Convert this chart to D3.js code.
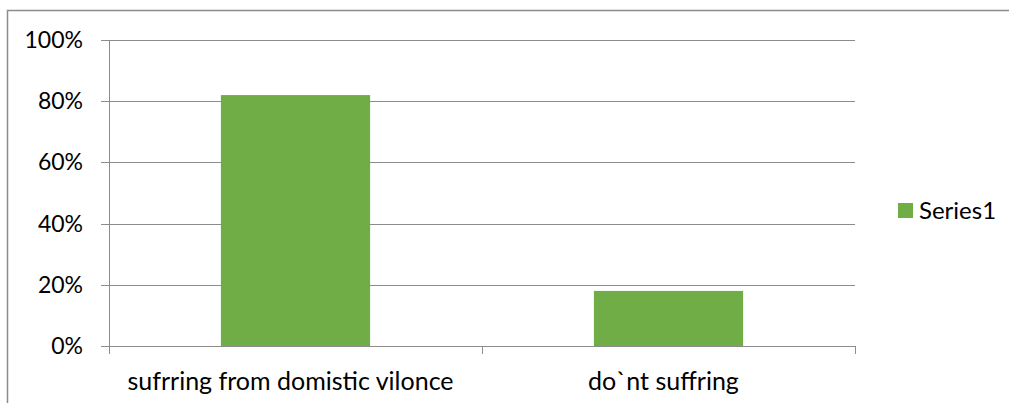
<!DOCTYPE html>
<html>
<head>
<meta charset="utf-8">
<script src="https://cdn.jsdelivr.net/npm/d3@7"></script>
<style>
  html, body { margin: 0; padding: 0; background: #fff; }
  svg { display: block; font-family: Lato, "Open Sans", sans-serif; }
</style>
</head>
<body>
<svg id="chart" width="1009" height="403"></svg>
<script>
const categories = ["sufrring from domistic vilonce", "do`nt suffring"];
const values = [0.82, 0.18];
const seriesName = "Series1";
const yTicks = [0, 0.2, 0.4, 0.6, 0.8, 1.0];

const svg = d3.select("#chart");
const plot = { left: 109, right: 855, top: 40, bottom: 346 };
const barColor = "#70AD47";
const gridColor = "#8c8c8c";

// chart frame
svg.append("path")
  .attr("d", "M7.5,403 V10.5 H1009")
  .attr("fill", "none")
  .attr("stroke", "#8c8c8c")
  .attr("stroke-width", 1.5);

const x = d3.scaleBand().domain(categories).range([plot.left, plot.right])
  .paddingInner(0.6).paddingOuter(0.3);
const y = d3.scaleLinear().domain([0, 1]).range([plot.bottom, plot.top]);

// horizontal gridlines
svg.append("g").selectAll("line").data(yTicks).join("line")
  .attr("x1", plot.left - 8).attr("x2", plot.right)
  .attr("y1", d => Math.round(y(d)) + 0.5).attr("y2", d => Math.round(y(d)) + 0.5)
  .attr("stroke", gridColor).attr("stroke-width", 1);

// bars
svg.append("g").selectAll("rect").data(values).join("rect")
  .attr("x", (d, i) => x(categories[i]))
  .attr("width", x.bandwidth())
  .attr("y", d => y(d))
  .attr("height", d => y(0) - y(d))
  .attr("fill", barColor);

// vertical axis line
svg.append("line")
  .attr("x1", plot.left + 0.5).attr("x2", plot.left + 0.5)
  .attr("y1", plot.top).attr("y2", plot.bottom + 8)
  .attr("stroke", gridColor);

// category tick marks at band boundaries
const step = (plot.right - plot.left) / categories.length;
svg.append("g").selectAll("line").data(d3.range(categories.length + 1)).join("line")
  .attr("x1", i => Math.round(plot.left + i * step) + 0.5)
  .attr("x2", i => Math.round(plot.left + i * step) + 0.5)
  .attr("y1", plot.bottom).attr("y2", plot.bottom + 8)
  .attr("stroke", gridColor);

// y tick labels
const fmt = d3.format(".0%");
svg.append("g").selectAll("text").data(yTicks).join("text")
  .attr("x", 83).attr("y", d => y(d))
  .attr("dy", "0.35em")
  .attr("text-anchor", "end")
  .attr("font-size", 23)
  .attr("fill", "#000")
  .text(d => fmt(d));

// category labels
svg.append("g").selectAll("text").data(categories).join("text")
  .attr("x", d => x(d) + x.bandwidth() / 2 - 5)
  .attr("y", 381)
  .attr("dy", "0.35em")
  .attr("text-anchor", "middle")
  .attr("font-size", 25)
  .attr("fill", "#000")
  .text(d => d);

// legend
const legend = svg.append("g").attr("transform", "translate(898,203)");
legend.append("rect").attr("width", 15).attr("height", 15).attr("fill", barColor);
legend.append("text").attr("x", 21).attr("y", 7.5).attr("dy", "0.35em")
  .attr("font-size", 24).attr("fill", "#000").text(seriesName);
</script>
</body>
</html>
